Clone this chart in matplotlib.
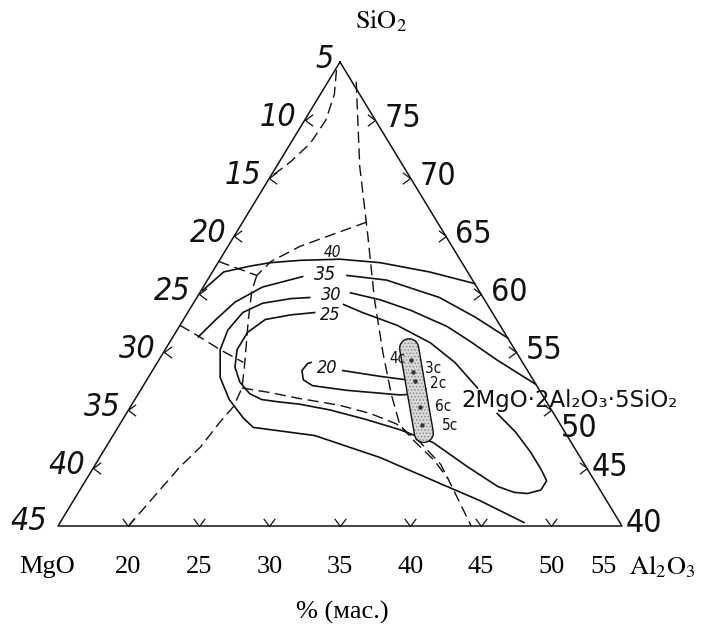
import numpy as np
import matplotlib.pyplot as plt
from matplotlib.path import Path
from matplotlib.patches import Polygon
import matplotlib.transforms as mtransforms

plt.rcParams['mathtext.fontset'] = 'stix'
plt.rcParams['hatch.linewidth'] = 0.7

# digitised compositions, % (mass): Al2O3 and SiO2, MgO is the rest
tri_al = [15, 55, 15, 15]
tri_si = [80, 40, 40, 80]

iso40_al = [15.1, 15.8, 17.4, 18.7, 20.7, 23.5, 26.5, 30.4, 34.1]
iso40_si = [60.3, 61.9, 62.4, 62.7, 62.9, 63.0, 62.7, 61.9, 60.9]

iso35_left_al = [16.8, 17.3, 17.9, 19.2, 21.6]
iso35_left_si = [56.3, 57.8, 59.3, 60.6, 61.5]
iso35_right_al = [24.7, 27.7, 32.2, 35.6, 38.8]
iso35_right_si = [61.6, 61.2, 59.7, 58.0, 56.2]

iso30_right_al = [42.8, 39.0, 36.3, 34.0, 30.7, 28.1, 25.7]
iso30_right_si = [52.2, 54.3, 55.9, 57.2, 58.6, 59.5, 60.1]
iso30_left_al = [23.0, 21.7, 19.9, 18.9, 18.6, 18.9, 20.1, 21.7, 23.5, 24.6,
                 29.3, 34.9, 40.9, 43.8, 47.9]
iso30_left_si = [59.7, 59.6, 59.2, 58.4, 56.9, 55.2, 52.8, 50.9, 49.3, 48.5,
                 47.8, 45.9, 43.4, 42.2, 40.3]

iso25_top_al = [25.7, 27.4, 30.4, 33.5, 36.1, 38.8]
iso25_top_si = [59.1, 58.4, 57.3, 55.8, 54.1, 51.9]
iso25_loop_al = [41.3, 43.4, 45.3, 46.9, 47.7, 47.7, 46.9, 45.9, 44.5, 41.5,
                 38.0, 35.1, 32.2, 29.3, 26.9, 25.3, 24.0, 22.9, 21.7, 20.7,
                 20.1, 20.1, 20.8, 22.4, 24.0]
iso25_loop_si = [49.7, 48.1, 46.4, 44.8, 43.9, 43.1, 42.8, 42.9, 43.4, 45.1,
                 47.2, 48.3, 49.2, 50.0, 50.5, 50.7, 50.9, 51.4, 52.4, 53.7,
                 55.2, 56.7, 57.8, 58.2, 58.4]

iso20_al = [28.5, 31.4, 34.1, 34.8, 35.2, 35.0, 33.6, 29.6, 27.0, 26.1, 25.6, 25.7, 25.9]
iso20_si = [53.4, 52.9, 52.5, 52.2, 51.8, 51.4, 51.3, 51.7, 52.1, 52.6, 53.4, 54.0, 54.1]

# isoline labels
iso_labels = ['40', '35', '30', '25', '20']
iso_label_al = [22.7, 23.1, 24.4, 25.2, 27.3]
iso_label_si = [63.6, 61.7, 59.9, 58.2, 53.6]

# dashed boundary lines
d1_al = [15.1, 16.0, 16.5, 16.4, 15.8, 15.1]
d1_si = [79.3, 77.2, 75.0, 73.0, 71.4, 70.2]
d2_al = [17.0, 20.9, 24.3, 27.7, 30.6, 33.0, 34.9, 36.5, 38.8, 40.6, 42.5, 44.3]
d2_si = [78.3, 71.0, 65.3, 59.5, 54.9, 51.3, 48.7, 47.4, 45.7, 44.1, 42.0, 40.0]
d3_al = [23.8, 22.2, 20.1, 18.7, 18.3]
d3_si = [66.2, 65.3, 64.1, 62.8, 61.6]
d3b_al = [15.0, 18.3]
d3b_si = [62.8, 61.6]
d4_al = [18.3, 18.6, 19.6, 21.2, 22.1, 22.3, 22.0, 21.7, 21.1, 20.0]
d4_si = [61.6, 60.3, 57.8, 54.1, 51.9, 50.3, 48.9, 46.8, 45.1, 40.0]
d5_al = [15.0, 16.9, 18.9, 21.1]
d5_si = [57.3, 56.3, 55.2, 54.1]
d6_al = [22.1, 24.3, 26.6, 29.8, 32.3, 34.6, 37.1, 39.5, 40.6]
d6_si = [51.9, 51.5, 51.0, 50.4, 49.7, 48.8, 47.2, 45.3, 44.1]

# samples in the shaded zone
sample_names = ['4c', '3c', '2c', '6c', '5c']
sample_al = [32.9, 33.5, 34.1, 35.5, 36.5]
sample_si = [54.3, 53.3, 52.5, 50.3, 48.7]

# edge scales
mgo_ticks = [10, 15, 20, 25, 30, 35, 40]
mgo_labels = [5, 10, 15, 20, 25, 30, 35, 40, 45]
sio2_ticks = [75, 70, 65, 60, 55, 50, 45]
sio2_labels = [75, 70, 65, 60, 55, 50, 45, 40]
al2o3_ticks = [20, 25, 30, 35, 40, 45, 50]
al2o3_labels = [20, 25, 30, 35, 40, 45, 50, 55]


def proj(al, si):
    al = np.asarray(al, float)
    si = np.asarray(si, float)
    return al + (si - 40) / 2, si


def chevron(angle):
    v = np.array([[1, 0.75], [0, 0], [1, -0.75]])
    r = np.deg2rad(angle)
    rot = np.array([[np.cos(r), -np.sin(r)], [np.sin(r), np.cos(r)]])
    return Path(v @ rot.T, [Path.MOVETO, Path.LINETO, Path.LINETO])


ink = '#111111'
hand = ['DejaVu Sans']
hand_kw = dict(family=hand, fontstretch='condensed', color=ink)
serif = 'Liberation Serif'

fig = plt.figure(figsize=(7.05, 6.26), dpi=100)
ax = fig.add_axes([0, 0, 1, 1])
ax.set_xlim(10.887, 60.887)
ax.set_ylim(31.379, 85.345)
ax.axis('off')

# triangle
ax.plot(*proj(tri_al, tri_si), color=ink, lw=1.1)

# isolines
for al, si in [(iso40_al, iso40_si), (iso35_left_al, iso35_left_si),
               (iso35_right_al, iso35_right_si), (iso30_right_al, iso30_right_si),
               (iso30_left_al, iso30_left_si), (iso25_top_al, iso25_top_si),
               (iso25_loop_al, iso25_loop_si), (iso20_al, iso20_si)]:
    ax.plot(*proj(al, si), color=ink, lw=1.2, solid_joinstyle='round')

sizes = [11, 14, 13, 13, 13]
for lab, al, si, fs in zip(iso_labels, iso_label_al, iso_label_si, sizes):
    x, y = proj(al, si)
    ax.text(x, y, lab, style='italic', fontsize=fs, ha='center', va='center', **hand_kw)

# dashed lines
for al, si in [(d1_al, d1_si), (d2_al, d2_si), (d3_al, d3_si), (d3b_al, d3b_si),
               (d4_al, d4_si), (d5_al, d5_si), (d6_al, d6_si)]:
    ax.plot(*proj(al, si), color=ink, lw=1.0, dashes=(8, 4))

# shaded zone around the samples
sx, sy = proj(sample_al, sample_si)
pts = ax.transData.transform(np.column_stack([sx, sy]))
top, bot = pts[0], pts[-1]
u = (bot - top) / np.linalg.norm(bot - top)
top = top - 12 * u
bot = bot + 8 * u
n = np.array([-u[1], u[0]])
hw = 9.5
ang0 = np.arctan2(n[1], n[0])
t = np.linspace(0, np.pi, 20)
cap_top = [top + hw * np.array([np.cos(ang0 + a), np.sin(ang0 + a)]) for a in t]
cap_bot = [bot + hw * np.array([np.cos(ang0 + np.pi + a), np.sin(ang0 + np.pi + a)]) for a in t]
outline = ax.transData.inverted().transform(np.array(cap_top + cap_bot))
ax.add_patch(Polygon(outline, closed=True, facecolor='#dadada', edgecolor='#8a8a8a',
                     lw=0, hatch='.....', zorder=3))
ax.add_patch(Polygon(outline, closed=True, facecolor='none', edgecolor=ink,
                     lw=1.0, zorder=4))
ax.plot(sx, sy, 'o', ms=2.2, color='#333333', zorder=5)
offsets = {'4c': (-10, 1), '3c': (15, 2.5), '2c': (16, -1.5), '6c': (17, 0), '5c': (20, 0)}
for name, x, y in zip(sample_names, sx, sy):
    ax.annotate(name, (x, y), xytext=offsets[name], textcoords='offset points',
                fontsize=11, ha='center', va='center', **hand_kw)

ax.text(*proj(38.2, 50.8), '2MgO·2Al₂O₃·5SiO₂', family=hand,
        fontsize=16.5, ha='left', va='center', zorder=6, color=ink)

# edge ticks
x, y = proj([15] * len(mgo_ticks), [85 - m for m in mgo_ticks])
ax.plot(x, y, ls='none', marker=chevron(0), ms=11, mfc='none', mec=ink, mew=0.9)
x, y = proj([95 - s for s in sio2_ticks], sio2_ticks)
ax.plot(x, y, ls='none', marker=chevron(180), ms=11, mfc='none', mec=ink, mew=0.9)
x, y = proj(al2o3_ticks, [40] * len(al2o3_ticks))
ax.plot(x, y, ls='none', marker=chevron(90), ms=11, mfc='none', mec=ink, mew=0.9)

# edge labels
for m in mgo_labels:
    x, y = proj(15, 85 - m)
    off = (-19, 1.5)
    if m == 5:
        off = (-11, 1.5)
    elif m == 45:
        off = (-21, 3)
    ax.annotate(str(m), (x, y), xytext=off, textcoords='offset points',
                style='italic', fontsize=23, ha='center', va='center', **hand_kw)
for s in sio2_labels:
    x, y = proj(95 - s, s)
    off = (20, 1)
    if s == 50:
        off = (20, -13)
    elif s == 45:
        off = (17, 0)
    elif s == 40:
        off = (16, 2)
    ax.annotate(str(s), (x, y), xytext=off, textcoords='offset points',
                fontsize=23, ha='center', va='center', **hand_kw)

# printed labels
blend = mtransforms.blended_transform_factory(ax.transData, ax.transAxes)
for v in al2o3_labels:
    xv = proj(v, 40)[0]
    if v == 55:
        xv = xv - 1.3
    ax.text(xv, 0.094, str(v), transform=blend, family=serif, fontsize=19,
            ha='center', va='center', color='black')
ax.text(0.067, 0.094, 'MgO', transform=ax.transAxes, family=serif, fontsize=19,
        ha='center', va='center')
ax.text(0.939, 0.094, r'$\mathrm{Al_2O_3}$', transform=ax.transAxes, fontsize=19,
        ha='center', va='center')
ax.text(0.540, 0.966, r'$\mathrm{SiO_2}$', transform=ax.transAxes, fontsize=19,
        ha='center', va='center')
ax.text(0.485, 0.021, '% (мас.)', transform=ax.transAxes, family=serif, fontsize=19,
        ha='center', va='center')

fig.savefig('out.png', dpi=100)
